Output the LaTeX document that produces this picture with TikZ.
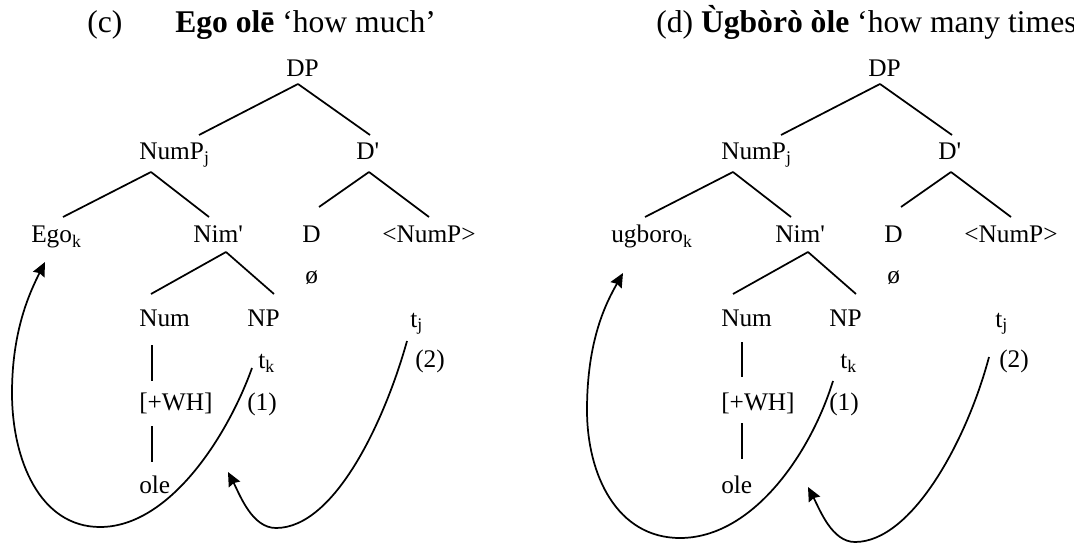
\documentclass[tikz,border=0pt]{standalone}
\usepackage{fontspec}
\setmainfont{Liberation Serif}
\usetikzlibrary{arrows.meta}

\begin{document}
\begin{tikzpicture}
% Two DP trees with movement arrows, laid out on a pixel grid
\def\pxsz{0.75pt}
\providecommand{\treeLineWidth}{1.3pt}
\providecommand{\treeFontSize}{19}
\providecommand{\titleFontSize}{23.7}
\tikzset{
  lab/.style={inner sep=0pt, anchor=base west, font=\fontsize{\treeFontSize}{23}\selectfont},
  ttl/.style={inner sep=0pt, anchor=base west, font=\fontsize{\titleFontSize}{28}\selectfont},
  branch/.style={line width=\treeLineWidth},
  move/.style={line width=\treeLineWidth, -{Stealth[length=10.5pt, width=9.5pt, inset=1.2pt]}}
}
\begin{scope}[x=\pxsz, y=-\pxsz]
  % Page frame
  \useasboundingbox (0,0) rectangle (1074,545);
  % ---------- Tree (c) ----------
  \node[ttl] (labc) at (87,33) {(c)};
  \node[ttl] (ttlc) at (175,33) {\textbf{Ego olē} ‘how much’};
  \node[lab] (DPc) at (286,77) {DP};
  \node[lab] (NumPc) at (139,160) {NumP\textsubscript{j}};
  \node[lab] (Dbarc) at (356,160) {D\textquotesingle};
  \node[lab] (Egoc) at (31,243) {Ego\textsubscript{k}};
  \node[lab] (Nimc) at (193,243) {Nim\textquotesingle};
  \node[lab] (Dc) at (302,243) {D};
  \node[lab] (NumPtrc) at (382,243) {<NumP>};
  \node[lab] (nullc) at (305,284) {ø};
  \node[lab] (Numc) at (139,326) {Num};
  \node[lab] (NPc) at (247,326) {NP};
  \node[lab] (tjc) at (410,327) {t\textsubscript{j}};
  \node[lab] (tkc) at (258,368) {t\textsubscript{k}};
  \node[lab] (twoc) at (415,367) {(2)};
  \node[lab] (whc) at (139,410) {[+WH]};
  \node[lab] (onec) at (247,410) {(1)};
  \node[lab] (olec) at (139,493) {ole};
  \coordinate (landc) at (228,472);
  % Branches
  \draw[branch] ([shift={(12,7)}]DPc.base west) -- ([shift={(60,-25)}]NumPc.base west);
  \draw[branch] ([shift={(12,7)}]DPc.base west) -- ([shift={(14,-25)}]Dbarc.base west);
  \draw[branch] ([shift={(12,12)}]NumPc.base west) -- ([shift={(32,-26)}]Egoc.base west);
  \draw[branch] ([shift={(12,12)}]NumPc.base west) -- ([shift={(16,-26)}]Nimc.base west);
  \draw[branch] ([shift={(13,12)}]Dbarc.base west) -- ([shift={(17,-36)}]Dc.base west);
  \draw[branch] ([shift={(13,12)}]Dbarc.base west) -- ([shift={(47,-26)}]NumPtrc.base west);
  \draw[branch] ([shift={(33,9)}]Nimc.base west) -- ([shift={(12,-32)}]Numc.base west);
  \draw[branch] ([shift={(33,9)}]Nimc.base west) -- ([shift={(27,-32)}]NPc.base west);
  \draw[branch] ([shift={(13,19)}]Numc.base west) -- ([shift={(13,-29)}]whc.base west);
  \draw[branch] ([shift={(13,16)}]whc.base west) -- ([shift={(13,-31)}]olec.base west);
  % Movement arrows
  \draw[move] ([shift={(-6,0)}]tkc.base west) .. controls (228,435) and (170,527) .. (100,527)
    .. controls (40,527) and (12,460) .. (12,393)
    .. controls (12,330) and (30,292) .. ([shift={(14,19)}]Egoc.base west);
  \draw[move] ([shift={(-3,14)}]tjc.base west) .. controls (385,420) and (335,528) .. (276,528)
    .. controls (252,528) and (240,495) .. (landc);
  % ---------- Tree (d) ----------
  \node[ttl] (labd) at (656,33) {(d) \textbf{Ùgbòrò òle} ‘how many times’};
  \begin{scope}[xshift=582*\pxsz]
    \node[lab] (DPd) at (286,77) {DP};
    \node[lab] (NumPd) at (139,160) {NumP\textsubscript{j}};
    \node[lab] (Dbard) at (356,160) {D\textquotesingle};
    \node[lab] (Egod) at (29,243) {ugboro\textsubscript{k}};
    \node[lab] (Nimd) at (193,243) {Nim\textquotesingle};
    \node[lab] (Dd) at (302,243) {D};
    \node[lab] (NumPtrd) at (382,243) {<NumP>};
    \node[lab] (nulld) at (305,284) {ø};
    \node[lab] (Numd) at (139,326) {Num};
    \node[lab] (NPd) at (247,326) {NP};
    \node[lab] (tjd) at (413,327) {t\textsubscript{j}};
    \node[lab] (tkd) at (258,368) {t\textsubscript{k}};
    \node[lab] (twod) at (417,367) {(2)};
    \node[lab] (whd) at (139,410) {[+WH]};
    \node[lab] (oned) at (247,410) {(1)};
    \node[lab] (oled) at (139,493) {ole};
    \coordinate (landd) at (226,487);
    % Branches
    \draw[branch] ([shift={(12,7)}]DPd.base west) -- ([shift={(60,-25)}]NumPd.base west);
    \draw[branch] ([shift={(12,7)}]DPd.base west) -- ([shift={(14,-25)}]Dbard.base west);
    \draw[branch] ([shift={(12,12)}]NumPd.base west) -- ([shift={(34,-26)}]Egod.base west);
    \draw[branch] ([shift={(12,12)}]NumPd.base west) -- ([shift={(16,-26)}]Nimd.base west);
    \draw[branch] ([shift={(13,12)}]Dbard.base west) -- ([shift={(17,-36)}]Dd.base west);
    \draw[branch] ([shift={(13,12)}]Dbard.base west) -- ([shift={(47,-26)}]NumPtrd.base west);
    \draw[branch] ([shift={(33,9)}]Nimd.base west) -- ([shift={(12,-32)}]Numd.base west);
    \draw[branch] ([shift={(33,9)}]Nimd.base west) -- ([shift={(27,-32)}]NPd.base west);
    \draw[branch] ([shift={(21,16)}]Numd.base west) -- ([shift={(21,-33)}]whd.base west);
    \draw[branch] ([shift={(21,13)}]whd.base west) -- ([shift={(21,-34)}]oled.base west);
    % Movement arrows
    \draw[move] ([shift={(-7,13)}]tkd.base west) .. controls (228,455) and (170,538) .. (98,538)
      .. controls (35,538) and (5,475) .. (5,410)
      .. controls (5,340) and (24,303) .. ([shift={(12,30)}]Egod.base west);
    \draw[move] ([shift={(-6,30)}]tjd.base west) .. controls (385,440) and (330,542) .. (273,542)
      .. controls (250,542) and (238,510) .. (landd);
  \end{scope}
\end{scope}
\end{tikzpicture}
\end{document}
